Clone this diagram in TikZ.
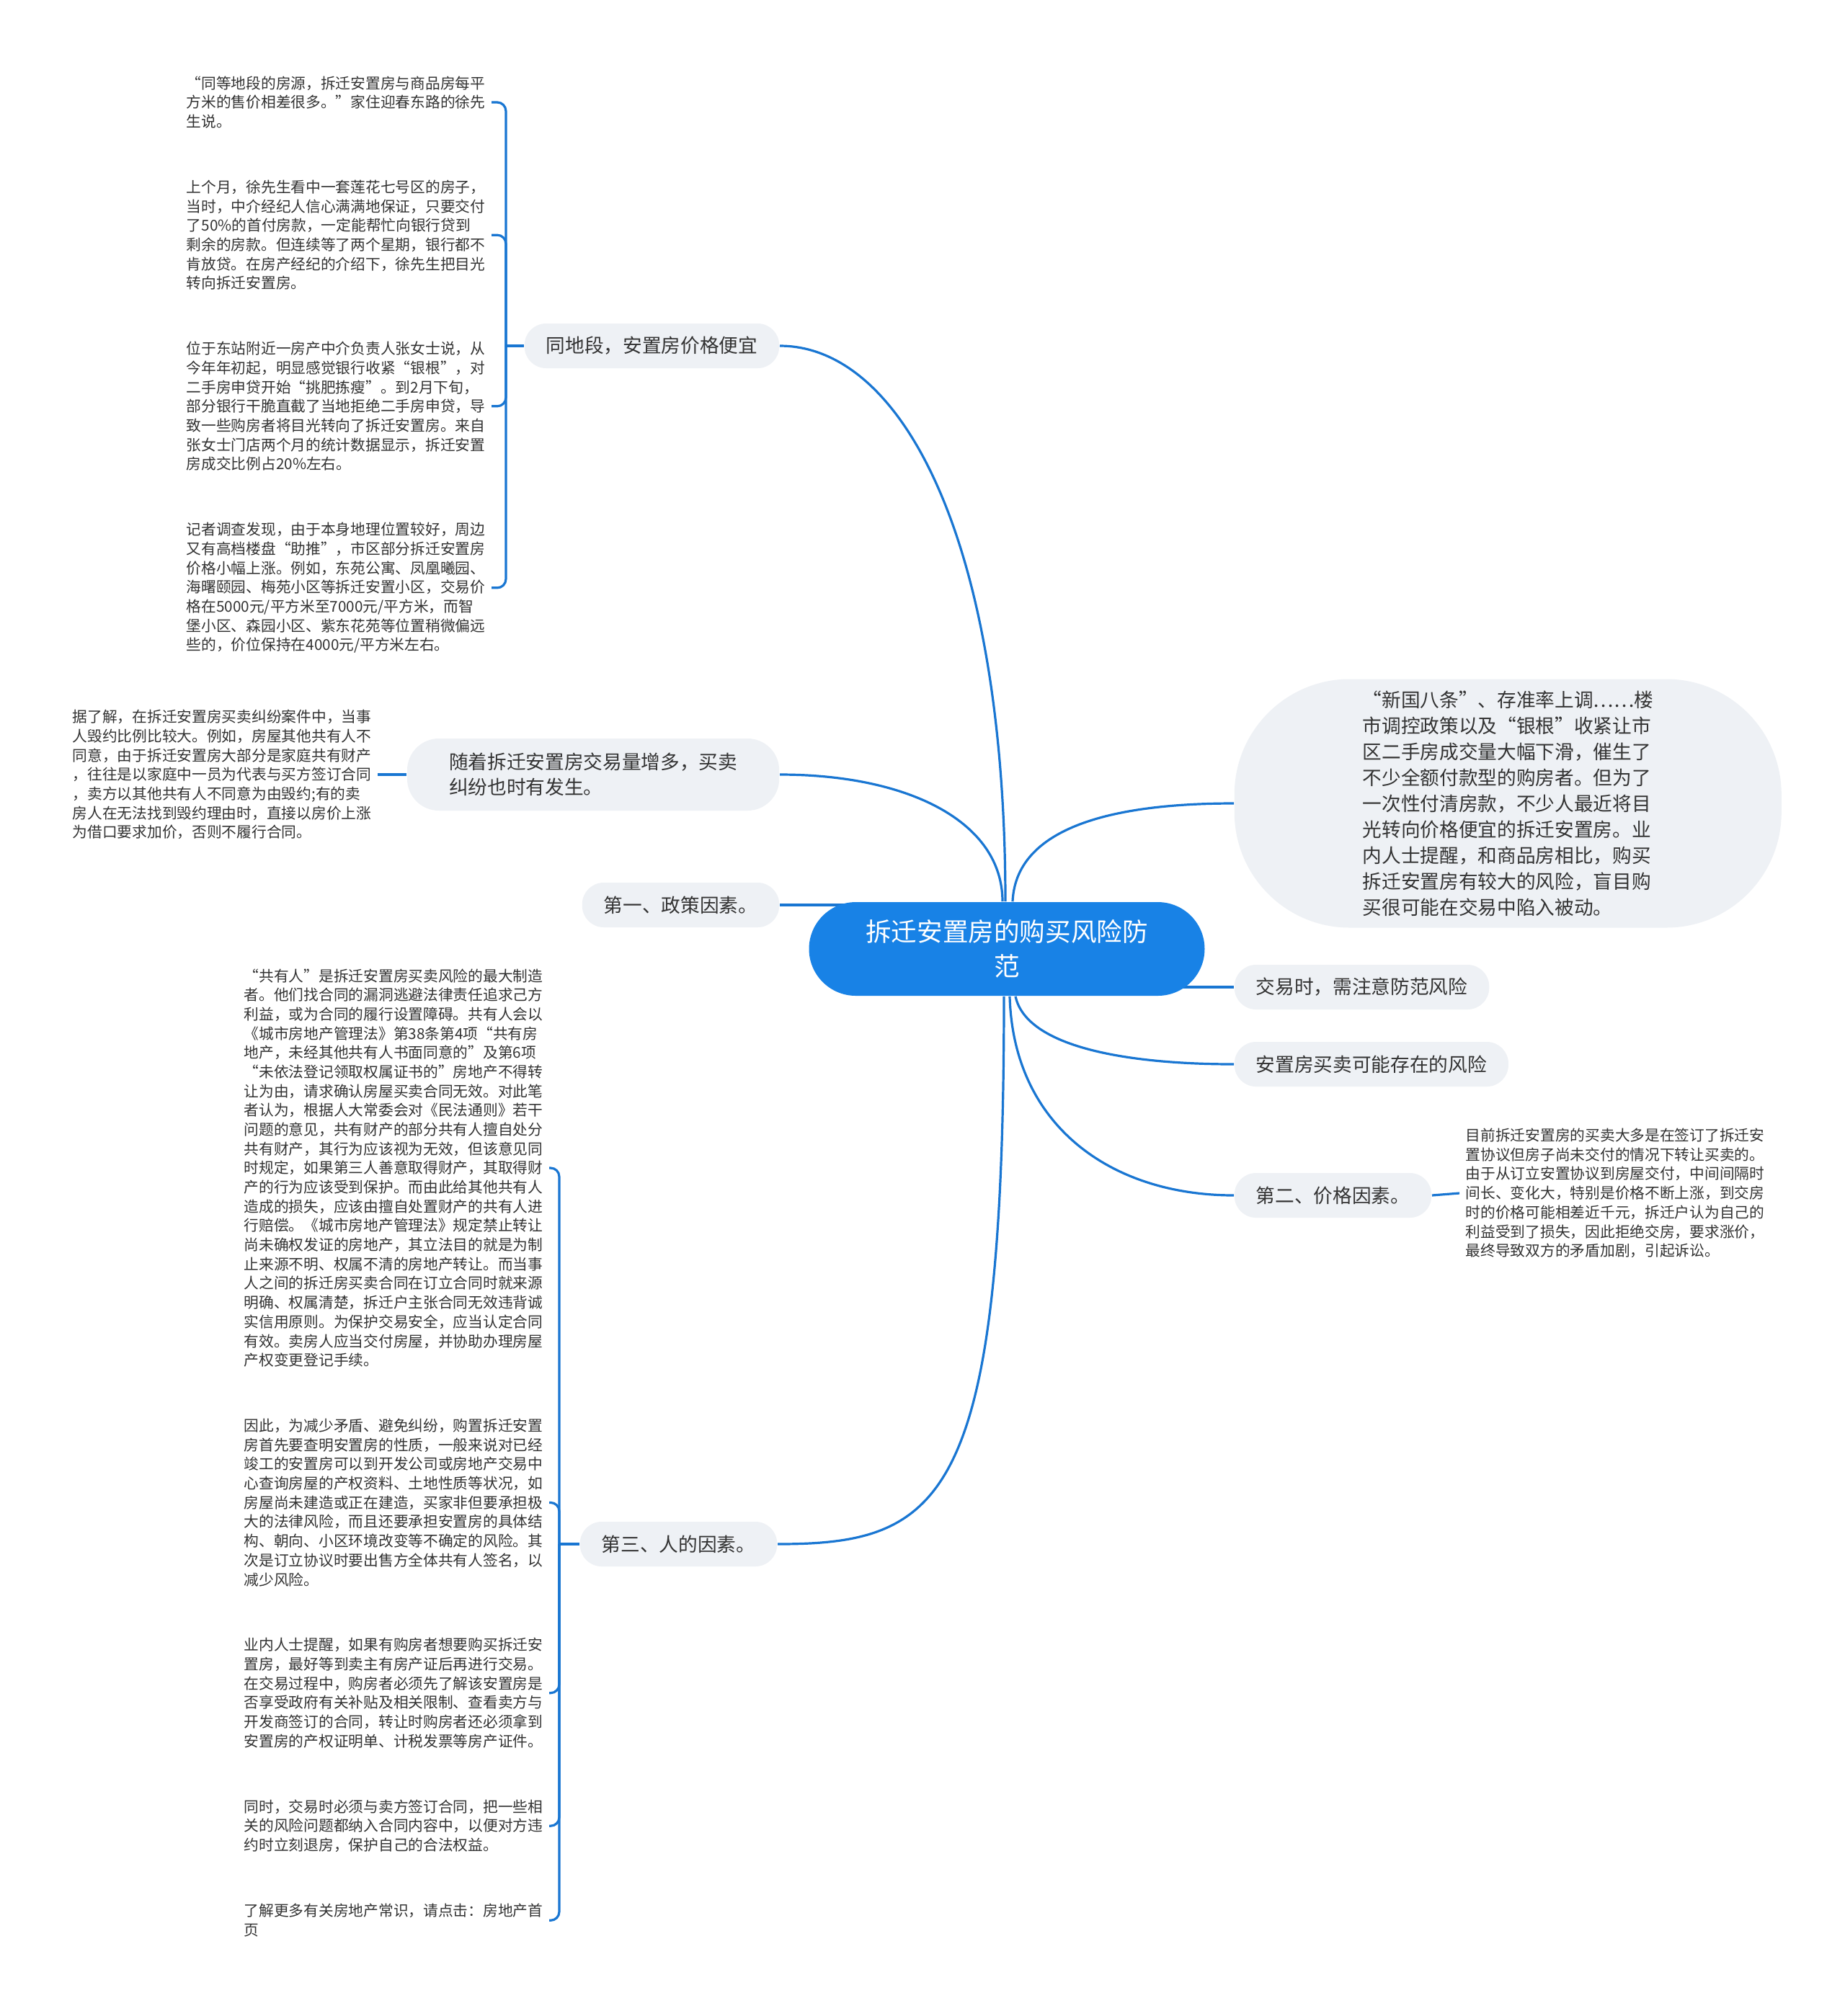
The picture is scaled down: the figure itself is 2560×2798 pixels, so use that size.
\documentclass[tikz,border=0pt]{standalone}
\usepackage{fontspec}
\setmainfont{Noto Sans CJK SC}
\usetikzlibrary{positioning, backgrounds}
\definecolor{rootblue}{RGB}{24,130,230}
\definecolor{linkblue}{RGB}{25,118,210}
\definecolor{nodegray}{RGB}{238,241,245}
\definecolor{textdark}{RGB}{51,51,51}
\tikzset{
  root/.style={rectangle, fill=rootblue, text=white, rounded corners=16.25pt,
    minimum width=137.25pt, minimum height=32.5pt, align=center,
    font=\fontsize{8.9pt}{12pt}\selectfont},
  branch/.style={rectangle, fill=nodegray, text=textdark, rounded corners=7.5pt,
    inner xsep=7.5pt, minimum height=15.5pt, align=left,
    font=\fontsize{6.67pt}{8.75pt}\selectfont},
  bubble/.style={branch, rounded corners=40pt, minimum width=189.75pt,
    minimum height=86.25pt, font=\fontsize{6.67pt}{9pt}\selectfont},
  leaf/.style={inner xsep=2pt, inner ysep=0pt, align=left, text=textdark,
    font=\fontsize{5.18pt}{6.67pt}\selectfont},
  link/.style={draw=linkblue, line width=0.8pt},
  brace/.style={link, rounded corners=3pt}
}

\begin{document}
\begin{tikzpicture}[x=0.25pt, y=-0.25pt, node distance=17.5pt]
  \useasboundingbox (0,0) rectangle (2560,2798);

  % centre
  \node[root] (root) at (1397,1317) {拆迁安置房的购买风险防\\范};

  % left side
  \node[branch, anchor=east] (b1) at (1082,480) {同地段，安置房价格便宜};
  \node[branch, anchor=east, inner xsep=14.5pt, minimum height=25pt,
    rounded corners=11pt] (b2) at (1082,1075)
    {随着拆迁安置房交易量增多，买卖\\纠纷也时有发生。};
  \node[branch, anchor=east] (b3) at (1082,1256) {第一、政策因素。};
  \node[branch, anchor=east] (b4) at (1079,2143) {第三、人的因素。};

  % right side
  \node[bubble, anchor=west] (r1) at (1712,1115)
    {“新国八条”、存准率上调……楼\\市调控政策以及“银根”收紧让市\\区二手房成交量大幅下滑，催生了\\不少全额付款型的购房者。但为了\\一次性付清房款，不少人最近将目\\光转向价格便宜的拆迁安置房。业\\内人士提醒，和商品房相比，购买\\拆迁安置房有较大的风险，盲目购\\买很可能在交易中陷入被动。};
  \node[branch, anchor=west] (r2) at (1712,1370) {交易时，需注意防范风险};
  \node[branch, anchor=west] (r3) at (1712,1477) {安置房买卖可能存在的风险};
  \node[branch, anchor=west] (r4) at (1712,1659) {第二、价格因素。};

  % texts of b1
  \node[leaf, anchor=west] (p1) at (250,142)
    {“同等地段的房源，拆迁安置房与商品房每平\\方米的售价相差很多。”家住迎春东路的徐先\\生说。};
  \node[leaf, below=of p1.south west, anchor=north west] (p2)
    {上个月，徐先生看中一套莲花七号区的房子，\\当时，中介经纪人信心满满地保证，只要交付\\了50\%的首付房款，一定能帮忙向银行贷到\\剩余的房款。但连续等了两个星期，银行都不\\肯放贷。在房产经纪的介绍下，徐先生把目光\\转向拆迁安置房。};
  \node[leaf, below=of p2.south west, anchor=north west] (p3)
    {位于东站附近一房产中介负责人张女士说，从\\今年年初起，明显感觉银行收紧“银根”，对\\二手房申贷开始“挑肥拣瘦”。到2月下旬，\\部分银行干脆直截了当地拒绝二手房申贷，导\\致一些购房者将目光转向了拆迁安置房。来自\\张女士门店两个月的统计数据显示，拆迁安置\\房成交比例占20\%左右。};
  \node[leaf, below=of p3.south west, anchor=north west] (p4)
    {记者调查发现，由于本身地理位置较好，周边\\又有高档楼盘“助推”，市区部分拆迁安置房\\价格小幅上涨。例如，东苑公寓、凤凰曦园、\\海曙颐园、梅苑小区等拆迁安置小区，交易价\\格在5000元/平方米至7000元/平方米，而智\\堡小区、森园小区、紫东花苑等位置稍微偏远\\些的，价位保持在4000元/平方米左右。};

  % text of b2
  \node[leaf, anchor=west] (d1) at (92,1075)
    {据了解，在拆迁安置房买卖纠纷案件中，当事\\人毁约比例比较大。例如，房屋其他共有人不\\同意，由于拆迁安置房大部分是家庭共有财产\\，往往是以家庭中一员为代表与买方签订合同\\，卖方以其他共有人不同意为由毁约;有的卖\\房人在无法找到毁约理由时，直接以房价上涨\\为借口要求加价，否则不履行合同。};

  % texts of b4
  \node[leaf, anchor=west] (q1) at (330,1621)
    {“共有人”是拆迁安置房买卖风险的最大制造\\者。他们找合同的漏洞逃避法律责任追求己方\\利益，或为合同的履行设置障碍。共有人会以\\《城市房地产管理法》第38条第4项“共有房\\地产，未经其他共有人书面同意的”及第6项\\“未依法登记领取权属证书的”房地产不得转\\让为由，请求确认房屋买卖合同无效。对此笔\\者认为，根据人大常委会对《民法通则》若干\\问题的意见，共有财产的部分共有人擅自处分\\共有财产，其行为应该视为无效，但该意见同\\时规定，如果第三人善意取得财产，其取得财\\产的行为应该受到保护。而由此给其他共有人\\造成的损失，应该由擅自处置财产的共有人进\\行赔偿。《城市房地产管理法》规定禁止转让\\尚未确权发证的房地产，其立法目的就是为制\\止来源不明、权属不清的房地产转让。而当事\\人之间的拆迁房买卖合同在订立合同时就来源\\明确、权属清楚，拆迁户主张合同无效违背诚\\实信用原则。为保护交易安全，应当认定合同\\有效。卖房人应当交付房屋，并协助办理房屋\\产权变更登记手续。};
  \node[leaf, below=of q1.south west, anchor=north west] (q2)
    {因此，为减少矛盾、避免纠纷，购置拆迁安置\\房首先要查明安置房的性质，一般来说对已经\\竣工的安置房可以到开发公司或房地产交易中\\心查询房屋的产权资料、土地性质等状况，如\\房屋尚未建造或正在建造，买家非但要承担极\\大的法律风险，而且还要承担安置房的具体结\\构、朝向、小区环境改变等不确定的风险。其\\次是订立协议时要出售方全体共有人签名，以\\减少风险。};
  \node[leaf, below=of q2.south west, anchor=north west] (q3)
    {业内人士提醒，如果有购房者想要购买拆迁安\\置房，最好等到卖主有房产证后再进行交易。\\在交易过程中，购房者必须先了解该安置房是\\否享受政府有关补贴及相关限制、查看卖方与\\开发商签订的合同，转让时购房者还必须拿到\\安置房的产权证明单、计税发票等房产证件。};
  \node[leaf, below=of q3.south west, anchor=north west] (q4)
    {同时，交易时必须与卖方签订合同，把一些相\\关的风险问题都纳入合同内容中，以便对方违\\约时立刻退房，保护自己的合法权益。};
  \node[leaf, below=of q4.south west, anchor=north west] (q5)
    {了解更多有关房地产常识，请点击：房地产首\\页};

  % text of r4
  \node[leaf, anchor=west] (e1) at (2025,1656)
    {目前拆迁安置房的买卖大多是在签订了拆迁安\\置协议但房子尚未交付的情况下转让买卖的。\\由于从订立安置协议到房屋交付，中间间隔时\\间长、变化大，特别是价格不断上涨，到交房\\时的价格可能相差近千元，拆迁户认为自己的\\利益受到了损失，因此拒绝交房，要求涨价，\\最终导致双方的矛盾加剧，引起诉讼。};

  \begin{scope}[on background layer]
    \fill[white] (0,0) rectangle (2560,2798);
    % from the centre
    \draw[link] ([xshift=-0.5pt]root.north) .. controls +(0,-500) and +(170,0) .. (b1.east);
    \draw[link] ([xshift=-1.5pt]root.north) .. controls +(0,-110) and +(180,0) .. (b2.east);
    \draw[link] (b3.east) -- (b3.east -| root.center);
    \draw[link] ([xshift=-1pt]root.south) .. controls +(0,700) and +(230,0) .. (b4.east);
    \draw[link] ([xshift=2pt]root.north) .. controls +(5,-110) and +(-150,0) .. (r1.west);
    \draw[link] (r2.west) -- (r2.west -| root.center);
    \draw[link] ([xshift=3pt]root.south) .. controls +(15,70) and +(-150,0) .. (r3.west);
    \draw[link] ([xshift=1pt]root.south) .. controls +(5,180) and +(-170,0) .. (r4.west);
    % to the texts
    \draw[link] (b1.west) -- ++(-25,0) coordinate (j1);
    \foreach \p in {p1,p2,p3,p4}
      \draw[brace] (j1) |- (\p.east);
    \draw[link] (d1.east) -- (b2.west);
    \draw[link] (b4.west) -- ++(-28,0) coordinate (j4);
    \foreach \q in {q1,q2,q3,q4,q5}
      \draw[brace] (j4) |- (\q.east);
    \draw[link] (r4.east) -- (e1.west);
  \end{scope}
\end{tikzpicture}
\end{document}
